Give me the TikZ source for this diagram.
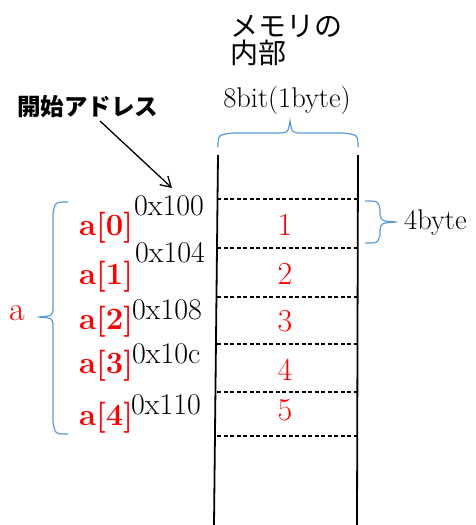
\documentclass[tikz,border=0pt]{standalone}
\usepackage{fontspec}
\newfontfamily\jp{Noto Sans CJK JP}
\usetikzlibrary{arrows.meta}
\definecolor{bracecol}{HTML}{5B9BD5}
\begin{document}
\begin{tikzpicture}[x=1pt,y=-1pt,
  txt/.style={inner sep=0pt,font=\fontsize{28.5}{32}\selectfont},
  val/.style={inner sep=0pt,text=red,font=\fontsize{32}{34}\selectfont},
  elem/.style={inner sep=0pt,text=red,font=\fontsize{31}{34}\selectfont\bfseries},
  addr/.style={inner sep=0pt,anchor=west,font=\fontsize{30}{32}\selectfont},
  ttl/.style={inner sep=0pt,anchor=base west,font=\jp\fontsize{28}{28}\selectfont},
  memline/.style={line width=1.8pt},
  cellline/.style={line width=1.3pt,dash pattern=on 4pt off 2.5pt},
  bracestyle/.style={draw=bracecol,line width=1.2pt}]
\useasboundingbox (0,0) rectangle (476,525);
% title
\node[ttl] (title1) at (230,36) {メモリの};
\node[ttl] (title2) at (230,63) {内部};
\node[txt] (width) at (287,100) {8bit(1byte)};
\node[inner sep=0pt,anchor=west,font=\jp\bfseries\fontsize{23.5}{26}\selectfont] (start) at (17,107) {開始アドレス};
% memory walls
\coordinate (lt) at (218,155); \coordinate (lb) at (214,525);
\coordinate (rt) at (358,155); \coordinate (rb) at (357,525);
\draw[memline] (lt) -- (lb);
\draw[memline] (rt) -- (rb);
% cell separators
\foreach \y/\n in {199/c0,248/c1,297/c2,344/c3,392/c4,436/c5}{
  \coordinate (\n l) at (217,\y); \coordinate (\n r) at (358,\y);
  \draw[cellline] (\n l) -- (\n r);
}
% values
\node[val] (v1) at (285,225) {1};
\node[val] (v2) at (285,274) {2};
\node[val] (v3) at (285,321) {3};
\node[val] (v4) at (285,370) {4};
\node[val] (v5) at (285,410) {5};
% addresses
\node[addr] (ad0) at (134,206) {0x100};
\node[addr] (ad1) at (135,253) {0x104};
\node[addr] (ad2) at (132,310) {0x108};
\node[addr] (ad3) at (132,354) {0x10c};
\node[addr] (ad4) at (131,405) {0x110};
% elements
\node[elem,anchor=west] (e0) at (79,228) {a[0]};
\node[elem,anchor=west] (e1) at (79,277) {a[1]};
\node[elem,anchor=west] (e2) at (79,322) {a[2]};
\node[elem,anchor=west] (e3) at (79,366) {a[3]};
\node[elem,anchor=west] (e4) at (79,418) {a[4]};
\node[inner sep=0pt,text=red,font=\fontsize{34}{36}\selectfont] (arr) at (17,313) {a};
\node[txt,anchor=west] (fourb) at (404,223) {4byte};
% arrow
\coordinate (tip) at (172,188);
\coordinate (tail) at (100,121);
\draw[line width=1.3pt,-{Straight Barb[length=10pt,width=12pt]}] (tail) -- (tip);
% braces
\draw[bracestyle] (218,147) .. controls (218,135) .. (232,133) -- (276,133)
  .. controls (288,133) .. (290,121) .. controls (292,133) .. (304,133) -- (344,133)
  .. controls (358,135) .. (358,147);
\draw[bracestyle] (68,202) .. controls (55,202) .. (53,214) -- (53,306)
  .. controls (53,316) .. (38,317) .. controls (53,318) .. (53,328) -- (53,422)
  .. controls (55,434) .. (68,434);
\draw[bracestyle] (365,201) .. controls (378,201) .. (380,209) -- (380,214)
  .. controls (381,221) .. (397,222) .. controls (381,223) .. (380,230) -- (380,235)
  .. controls (378,243) .. (365,243);
\end{tikzpicture}
\end{document}
